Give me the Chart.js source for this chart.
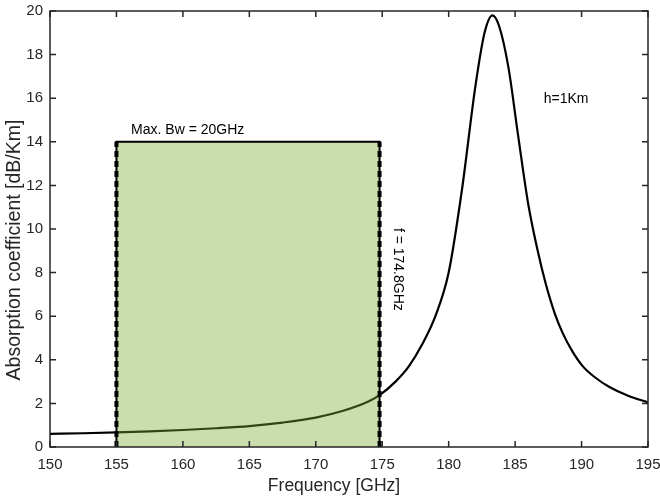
<!DOCTYPE html>
<html>
<head>
<meta charset="utf-8">
<script src="https://cdn.jsdelivr.net/npm/chart.js@4.4.1/dist/chart.umd.min.js"></script>
<style>
  html, body { margin: 0; padding: 0; background: #fff; }
  #wrap { width: 660px; height: 500px; }
</style>
</head>
<body>
<div id="wrap"><canvas id="myChart" width="660" height="500"></canvas></div>
<script>
"use strict";

// absorption curve
const freq = [150, 152.5, 155, 157.5, 160, 162.5, 165, 167.5, 170, 172, 174, 174.8,
    176, 177, 178, 179, 180, 181, 182, 182.7, 183.3, 183.8, 184.5, 185.2, 186,
    186.7, 187.3, 188, 188.6, 189.3, 190.1, 191, 192.1, 193.5, 195];
const absorp = [0.60, 0.63, 0.67, 0.72, 0.78, 0.86, 0.96, 1.12, 1.35, 1.65, 2.1, 2.38,
    3.0, 3.7, 4.7, 6.0, 8.0, 11.8, 16.5, 19.0, 19.8, 19.3, 17.4, 14.4, 11.1,
    9.0, 7.5, 6.1, 5.2, 4.4, 3.7, 3.2, 2.75, 2.35, 2.05];

// bandwidth box
const bandStart = 155;
const bandEnd = 174.8;
const bandTop = 14;

const xTicks = [150, 155, 160, 165, 170, 175, 180, 185, 190, 195];
const yTicks = [0, 2, 4, 6, 8, 10, 12, 14, 16, 18, 20];

const FONT = "'Liberation Sans', Arial, Helvetica, sans-serif";
const AXIS = '#262626';

let curvePts = [];
for (let i = 0; i < freq.length; i++) {
    curvePts.push({ x: freq[i], y: absorp[i] });
}

const boxPts = [
    { x: bandStart, y: 0 }, { x: bandStart, y: bandTop },
    { x: bandEnd, y: bandTop }, { x: bandEnd, y: 0 }
];

// matlab style box + inward ticks + text labels
const decor = {
    id: 'decor',
    afterDatasetsDraw(chart) {
        const ctx = chart.ctx;
        const a = chart.chartArea;
        const xs = chart.scales.x;
        const ys = chart.scales.y;
        ctx.save();
        ctx.strokeStyle = AXIS;
        ctx.lineWidth = 1.5;
        ctx.strokeRect(a.left, a.top, a.right - a.left, a.bottom - a.top);
        ctx.beginPath();
        for (let i = 0; i < xTicks.length; i++) {
            const px = xs.getPixelForValue(xTicks[i]);
            ctx.moveTo(px, a.bottom); ctx.lineTo(px, a.bottom - 6);
            ctx.moveTo(px, a.top); ctx.lineTo(px, a.top + 6);
        }
        for (let i = 0; i < yTicks.length; i++) {
            const py = ys.getPixelForValue(yTicks[i]);
            ctx.moveTo(a.left, py); ctx.lineTo(a.left + 6, py);
            ctx.moveTo(a.right, py); ctx.lineTo(a.right - 6, py);
        }
        ctx.stroke();

        ctx.fillStyle = '#000';
        ctx.font = '14px ' + FONT;
        ctx.textAlign = 'left';
        ctx.textBaseline = 'bottom';
        ctx.fillText('Max. Bw = 20GHz', xs.getPixelForValue(156.1), ys.getPixelForValue(14.2));
        ctx.textBaseline = 'middle';
        ctx.fillText('h=1Km', xs.getPixelForValue(187.15), ys.getPixelForValue(15.95));

        ctx.save();
        ctx.translate(xs.getPixelForValue(176.15), ys.getPixelForValue(10.05));
        ctx.rotate(Math.PI / 2);
        ctx.fillText('f = 174.8GHz', 0, 0);
        ctx.restore();

        // axis titles
        ctx.fillStyle = AXIS;
        ctx.textAlign = 'center';
        ctx.textBaseline = 'middle';
        ctx.font = '17.5px ' + FONT;
        ctx.fillText('Frequency [GHz]', 334, 486);
        ctx.font = '19.5px ' + FONT;
        ctx.translate(15, 250);
        ctx.rotate(-Math.PI / 2);
        ctx.fillText('Absorption coefficient [dB/Km]', 0, 0);
        ctx.restore();
    }
};

const ctx = document.getElementById('myChart').getContext('2d');
const myChart = new Chart(ctx, {
    type: 'scatter',
    data: {
        datasets: [
            {
                label: 'left edge',
                data: [boxPts[0], boxPts[1]],
                showLine: true,
                borderColor: '#000',
                borderWidth: 4,
                borderDash: [6, 4],
                pointRadius: 0,
                order: 0
            },
            {
                label: 'right edge',
                data: [boxPts[3], boxPts[2]],
                showLine: true,
                borderColor: '#000',
                borderWidth: 4,
                borderDash: [6, 4],
                pointRadius: 0,
                order: 0
            },
            {
                label: 'band',
                data: boxPts,
                showLine: true,
                fill: 'origin',
                backgroundColor: 'rgba(119, 172, 48, 0.4)',
                borderColor: '#000',
                borderWidth: 2,
                pointRadius: 0,
                order: 1
            },
            {
                label: 'h=1Km',
                data: curvePts,
                showLine: true,
                cubicInterpolationMode: 'monotone',
                borderColor: '#000',
                borderWidth: 2.2,
                pointRadius: 0,
                order: 2
            }
        ]
    },
    options: {
        responsive: false,
        animation: false,
        layout: { autoPadding: false, padding: { top: 11, right: 12, left: 0, bottom: 0 } },
        plugins: {
            legend: { display: false },
            tooltip: { enabled: false }
        },
        scales: {
            x: {
                type: 'linear',
                min: 150,
                max: 195,
                afterBuildTicks: (s) => { s.ticks = xTicks.map(v => ({ value: v })); },
                afterFit: (s) => {
                    s.height = 53;
                    s.paddingLeft = 0;
                    s.paddingRight = 0;
                },
                grid: { display: false, drawTicks: false },
                border: { display: false },
                ticks: {
                    color: AXIS,
                    padding: 9,
                    maxRotation: 0,
                    font: { family: FONT, size: 15 }
                }
            },
            y: {
                type: 'linear',
                min: 0,
                max: 20,
                afterBuildTicks: (s) => { s.ticks = yTicks.map(v => ({ value: v })); },
                afterFit: (s) => {
                    s.width = 50;
                    s.paddingTop = 0;
                    s.paddingBottom = 0;
                },
                grid: { display: false, drawTicks: false },
                border: { display: false },
                ticks: {
                    color: AXIS,
                    padding: 7,
                    font: { family: FONT, size: 15 }
                }
            }
        }
    },
    plugins: [decor]
});
</script>
</body>
</html>
